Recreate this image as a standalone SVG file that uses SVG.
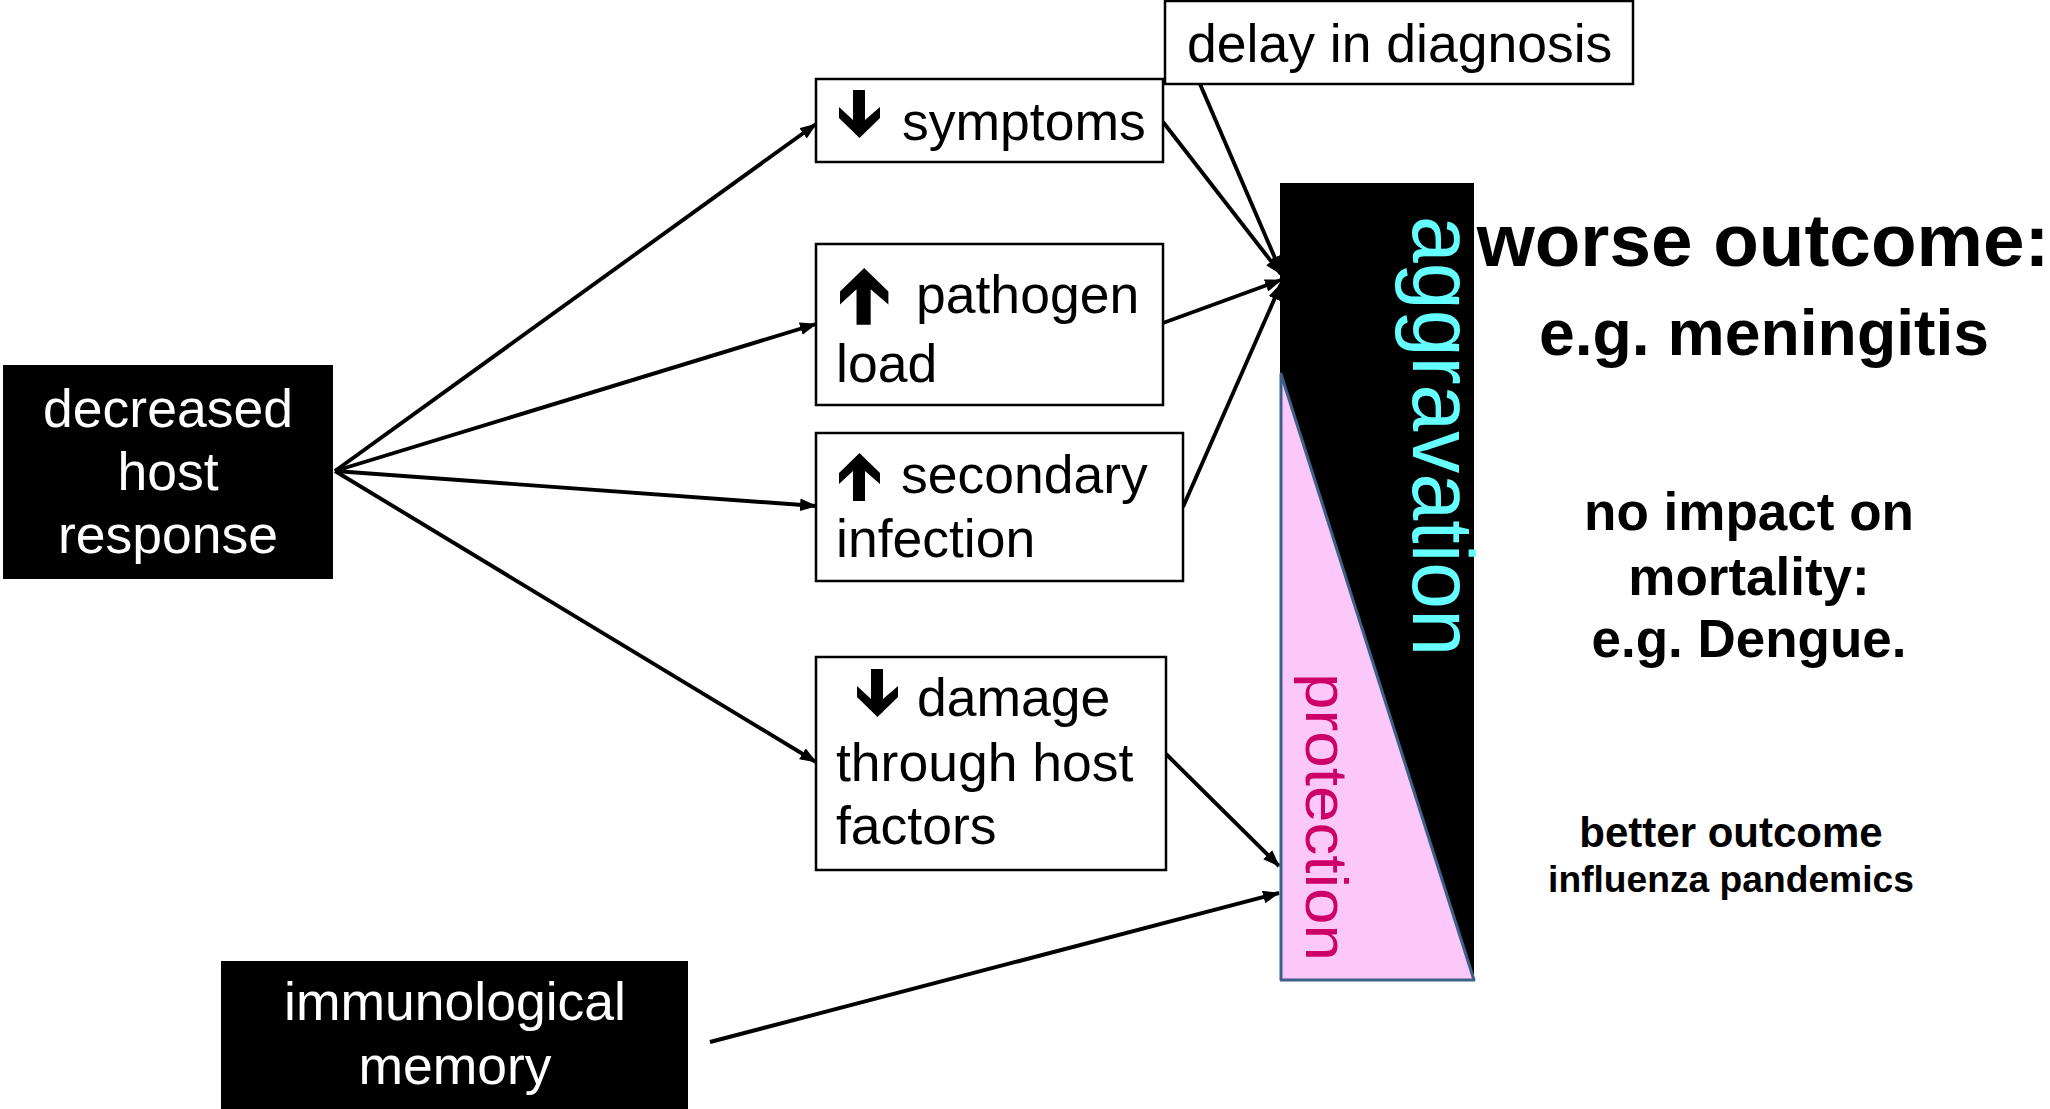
<svg xmlns="http://www.w3.org/2000/svg" width="2050" height="1109" viewBox="0 0 2050 1109">
<style>
.box{fill:#fff;stroke:#000;stroke-width:2.5}
.dark{fill:#000}
.t{font-family:"Liberation Sans",Arial,sans-serif;font-size:53.5px;fill:#000}
.w{font-family:"Liberation Sans",Arial,sans-serif;font-size:53.5px;fill:#fff;text-anchor:middle}
.b{font-family:"Liberation Sans",Arial,sans-serif;font-weight:bold;fill:#000;text-anchor:middle}
.c{stroke:#000;stroke-width:3.9;fill:none;marker-end:url(#ah)}
</style>
<defs>
<marker id="ah" viewBox="0 0 16 12" refX="15" refY="6" markerWidth="17" markerHeight="13" markerUnits="userSpaceOnUse" orient="auto">
<path d="M0,0 L16,6 L0,12 Z" fill="#000"/>
</marker>
<path id="down" d="M14,0 H26 V30 L41,17 V28 L20.5,48 L0,28 V17 L14,30 Z" fill="#000"/>
<path id="up" d="M14,48 H26 V18 L41,31 V20 L20.5,0 L0,20 V31 L14,18 Z" fill="#000"/>
</defs>
<rect width="2050" height="1109" fill="#fff"/>

<g id="connectors">
<line class="c" x1="335" y1="471" x2="816" y2="124"/>
<line class="c" x1="335" y1="471" x2="816" y2="324"/>
<line class="c" x1="335" y1="471" x2="816" y2="506"/>
<line class="c" x1="335" y1="471" x2="816" y2="762"/>
<line class="c" x1="1200" y1="84" x2="1281" y2="272"/>
<line class="c" x1="1163" y1="122" x2="1281" y2="274"/>
<line class="c" x1="1163" y1="323" x2="1281" y2="280"/>
<line class="c" x1="1183" y1="507" x2="1281" y2="284"/>
<line class="c" x1="1166" y1="754" x2="1279" y2="866"/>
<line class="c" x1="710" y1="1042" x2="1279" y2="893"/>
</g>

<g id="decreased-host-response">
<rect class="dark" x="3" y="365" width="330" height="214"/>
<text class="w" x="168" y="427">decreased</text>
<text class="w" x="168" y="490">host</text>
<text class="w" x="168" y="553">response</text>
</g>

<g id="symptoms">
<rect class="box" x="816" y="79" width="347" height="83"/>
<use href="#down" x="839" y="90"/>
<text class="t" x="902" y="140">symptoms</text>
</g>

<g id="pathogen-load">
<rect class="box" x="816" y="244" width="347" height="161"/>
<use href="#up" transform="translate(840,268) scale(1.18)"/>
<text class="t" x="916" y="313">pathogen</text>
<text class="t" x="836" y="382">load</text>
</g>

<g id="secondary-infection">
<rect class="box" x="816" y="433" width="367" height="148"/>
<use href="#up" x="839" y="453"/>
<text class="t" x="901" y="493">secondary</text>
<text class="t" x="836" y="557">infection</text>
</g>

<g id="damage">
<rect class="box" x="816" y="657" width="350" height="213"/>
<use href="#down" x="857" y="669"/>
<text class="t" x="917" y="716">damage</text>
<text class="t" x="836" y="781">through host</text>
<text class="t" x="836" y="844">factors</text>
</g>

<g id="delay-in-diagnosis">
<rect class="box" x="1165" y="1" width="468" height="83"/>
<text class="t" x="1187" y="62">delay in diagnosis</text>
</g>

<g id="immunological-memory">
<rect class="dark" x="221" y="961" width="467" height="148"/>
<text class="w" x="455" y="1020">immunological</text>
<text class="w" x="455" y="1084">memory</text>
</g>

<g id="balance">
<rect class="dark" x="1280" y="183" width="194" height="797"/>
<polygon points="1281,374 1281,980 1474,980" fill="#FCC8FA" stroke="#3E6088" stroke-width="3" stroke-linejoin="round"/>
<text transform="translate(1413,216) rotate(90)" font-family="Liberation Sans, Arial, sans-serif" font-size="88" fill="#66FFFF" textLength="440" lengthAdjust="spacingAndGlyphs">aggravation</text>
<text transform="translate(1306,673) rotate(90)" font-family="Liberation Sans, Arial, sans-serif" font-size="60" fill="#CC0066" textLength="288" lengthAdjust="spacingAndGlyphs">protection</text>
</g>

<g id="outcomes">
<text class="b" x="1763" y="266" font-size="74.7">worse outcome:</text>
<text class="b" x="1764" y="355" font-size="64.3">e.g. meningitis</text>
<text class="b" x="1749" y="530" font-size="53">no impact on</text>
<text class="b" x="1749" y="595" font-size="53">mortality:</text>
<text class="b" x="1749" y="657" font-size="53">e.g. Dengue.</text>
<text class="b" x="1731" y="847" font-size="42">better outcome</text>
<text class="b" x="1731" y="892" font-size="37.2">influenza pandemics</text>
</g>
</svg>
